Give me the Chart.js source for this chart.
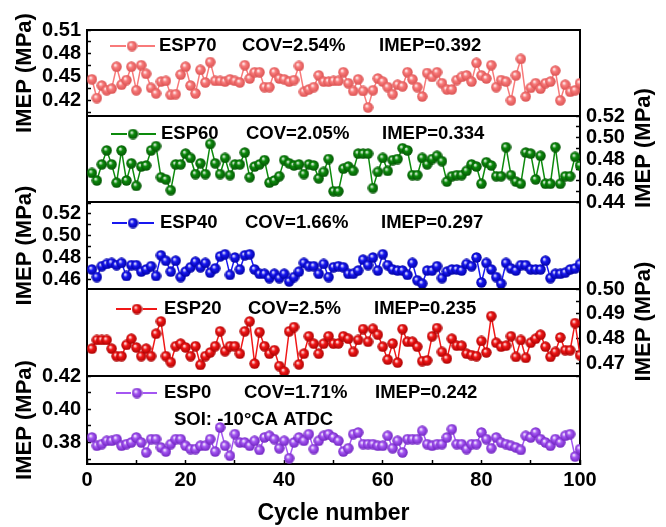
<!DOCTYPE html>
<html>
<head>
<meta charset="utf-8">
<script src="https://cdn.jsdelivr.net/npm/chart.js@4.4.1/dist/chart.umd.min.js"></script>
<style>
  html, body { margin: 0; padding: 0; background: #fff; }
  #wrap { position: relative; width: 666px; height: 527px; overflow: hidden; }
  #wrap canvas { position: absolute; left: 0; top: 0; }
</style>
</head>
<body>
<div id="wrap">
  <canvas id="p1" width="666" height="527"></canvas>
  <canvas id="p2" width="666" height="527"></canvas>
  <canvas id="p3" width="666" height="527"></canvas>
  <canvas id="p4" width="666" height="527"></canvas>
  <canvas id="p5" width="666" height="527"></canvas>
</div>
<script>
  // IMEP per cycle (MPa), cycles 1..100
  const esp70 = [
    0.447, 0.423, 0.439, 0.433, 0.435, 0.463, 0.440, 0.446, 0.463, 0.433,
    0.465, 0.454, 0.436, 0.429, 0.444, 0.445, 0.427, 0.428, 0.453, 0.463,
    0.439, 0.429, 0.459, 0.443, 0.469, 0.445, 0.445, 0.444, 0.447, 0.445,
    0.443, 0.465, 0.448, 0.456, 0.456, 0.437, 0.437, 0.456, 0.448, 0.447,
    0.444, 0.446, 0.464, 0.431, 0.434, 0.437, 0.452, 0.444, 0.444, 0.445,
    0.445, 0.456, 0.442, 0.432, 0.447, 0.432, 0.411, 0.433, 0.448, 0.444,
    0.437, 0.428, 0.440, 0.438, 0.456, 0.447, 0.437, 0.425, 0.455, 0.450,
    0.456, 0.442, 0.434, 0.434, 0.446, 0.450, 0.452, 0.444, 0.468, 0.452,
    0.448, 0.465, 0.437, 0.446, 0.444, 0.420, 0.452, 0.473, 0.425, 0.436,
    0.442, 0.435, 0.442, 0.444, 0.458, 0.420, 0.440, 0.431, 0.433, 0.442
  ];
  const esp60 = [
    0.467, 0.460, 0.475, 0.488, 0.475, 0.458, 0.488, 0.460, 0.476, 0.455,
    0.473, 0.474, 0.488, 0.492, 0.463, 0.461, 0.451, 0.475, 0.475, 0.485,
    0.481, 0.466, 0.476, 0.466, 0.494, 0.476, 0.466, 0.481, 0.465, 0.475,
    0.475, 0.486, 0.463, 0.473, 0.475, 0.479, 0.458, 0.460, 0.464, 0.479,
    0.476, 0.474, 0.475, 0.466, 0.475, 0.474, 0.462, 0.468, 0.480, 0.450,
    0.450, 0.471, 0.473, 0.469, 0.485, 0.485, 0.485, 0.453, 0.468, 0.481,
    0.469, 0.479, 0.480, 0.490, 0.488, 0.465, 0.465, 0.481, 0.475, 0.480,
    0.483, 0.478, 0.459, 0.464, 0.465, 0.465, 0.469, 0.475, 0.473, 0.457,
    0.477, 0.474, 0.464, 0.464, 0.491, 0.465, 0.459, 0.457, 0.486, 0.485,
    0.461, 0.483, 0.457, 0.457, 0.491, 0.457, 0.464, 0.464, 0.482, 0.474
  ];
  const esp40 = [
    0.469, 0.462, 0.472, 0.474, 0.475, 0.473, 0.475, 0.463, 0.473, 0.473,
    0.467, 0.469, 0.472, 0.463, 0.482, 0.477, 0.467, 0.477, 0.462, 0.467,
    0.471, 0.476, 0.471, 0.475, 0.466, 0.470, 0.481, 0.483, 0.464, 0.480,
    0.469, 0.482, 0.483, 0.469, 0.465, 0.465, 0.461, 0.465, 0.461, 0.465,
    0.458, 0.462, 0.467, 0.475, 0.472, 0.472, 0.465, 0.474, 0.462, 0.471,
    0.472, 0.471, 0.465, 0.465, 0.468, 0.478, 0.473, 0.480, 0.468, 0.483,
    0.473, 0.469, 0.468, 0.468, 0.464, 0.475, 0.459, 0.456, 0.468, 0.468,
    0.472, 0.461, 0.467, 0.469, 0.469, 0.468, 0.474, 0.472, 0.480, 0.457,
    0.475, 0.469, 0.462, 0.456, 0.475, 0.470, 0.468, 0.473, 0.473, 0.469,
    0.469, 0.469, 0.477, 0.461, 0.465, 0.465, 0.466, 0.469, 0.470, 0.474
  ];
  const esp20 = [
    0.4760, 0.4795, 0.4795, 0.4795, 0.4760, 0.4730, 0.4730, 0.4775, 0.4800, 0.4765,
    0.4730, 0.4760, 0.4730, 0.4820, 0.4870, 0.4730, 0.4706, 0.4770, 0.4780, 0.4765,
    0.4730, 0.4770, 0.4695, 0.4730, 0.4745, 0.4770, 0.4830, 0.4750, 0.4770, 0.4770,
    0.4740, 0.4830, 0.4870, 0.4700, 0.4827, 0.4770, 0.4740, 0.4754, 0.4690, 0.4668,
    0.4830, 0.4847, 0.4697, 0.4740, 0.4810, 0.4780, 0.4740, 0.4780, 0.4810, 0.4780,
    0.4781, 0.4810, 0.4800, 0.4747, 0.4795, 0.4839, 0.4788, 0.4840, 0.4816, 0.4768,
    0.4716, 0.4781, 0.4704, 0.4839, 0.4788, 0.4788, 0.4768, 0.4710, 0.4713, 0.4810,
    0.4843, 0.4747, 0.4720, 0.4800, 0.4772, 0.4772, 0.4740, 0.4734, 0.4730, 0.4791,
    0.4745, 0.4891, 0.4784, 0.4768, 0.4772, 0.4810, 0.4727, 0.4795, 0.4723, 0.4784,
    0.4800, 0.4816, 0.4768, 0.4727, 0.4747, 0.4805, 0.4754, 0.4754, 0.4863, 0.4734
  ];
  const esp0 = [
    0.3830, 0.3780, 0.3790, 0.3810, 0.3810, 0.3820, 0.3780, 0.3790, 0.3800, 0.3830,
    0.3800, 0.3740, 0.3820, 0.3820, 0.3770, 0.3745, 0.3790, 0.3820, 0.3820, 0.3780,
    0.3760, 0.3760, 0.3780, 0.3780, 0.3820, 0.3745, 0.3890, 0.3780, 0.3720, 0.3850,
    0.3800, 0.3800, 0.3780, 0.3810, 0.3755, 0.3830, 0.3840, 0.3820, 0.3765, 0.3810,
    0.3705, 0.3800, 0.3830, 0.3810, 0.3850, 0.3760, 0.3810, 0.3840, 0.3850, 0.3830,
    0.3810, 0.3745, 0.3765, 0.3850, 0.3860, 0.3790, 0.3790, 0.3790, 0.3780, 0.3780,
    0.3840, 0.3765, 0.3810, 0.3740, 0.3820, 0.3820, 0.3820, 0.3870, 0.3790, 0.3780,
    0.3790, 0.3790, 0.3830, 0.3880, 0.3790, 0.3790, 0.3760, 0.3790, 0.3790, 0.3860,
    0.3820, 0.3765, 0.3830, 0.3800, 0.3790, 0.3780, 0.3770, 0.3755, 0.3840, 0.3830,
    0.3860, 0.3820, 0.3800, 0.3780, 0.3820, 0.3800, 0.3840, 0.3850, 0.3715, 0.3760
  ];

  // tick labels
  const xTicks = [0, 20, 40, 60, 80, 100];
  const esp70Ticks = [0.42, 0.45, 0.48, 0.51];
  const esp60Ticks = [0.44, 0.46, 0.48, 0.50, 0.52];
  const esp40Ticks = [0.46, 0.48, 0.50, 0.52];
  const esp20Ticks = [0.47, 0.48, 0.49, 0.50];
  const esp0Ticks = [0.38, 0.40, 0.42];

  Chart.defaults.font.family = "'Liberation Sans', Arial, sans-serif";
  Chart.defaults.color = "#000";

  const W = 666, H = 527;
  const PLOT_LEFT = 87, PLOT_RIGHT = 580;
  const FONT = "'Liberation Sans', Arial, sans-serif";

  const panels = [
    { id: "p1", name: "ESP70", cov: "COV=2.54%", imep: "IMEP=0.392", data: esp70, ticks: esp70Ticks,
      min: 0.40, max: 0.51, color: "#F87A7A", dark: "#D95050", side: "left", top: 30, bottom: 116,
      ly: 46, lx0: 110, lx1: 155, mx: 132, nx: 159, cx: 242, ix: 379 },
    { id: "p2", name: "ESP60", cov: "COV=2.05%", imep: "IMEP=0.334", data: esp60, ticks: esp60Ticks,
      min: 0.44, max: 0.52, color: "#0C8A0C", dark: "#045204", side: "right", top: 116, bottom: 202,
      ly: 134, lx0: 111, lx1: 156, mx: 133, nx: 161, cx: 246, ix: 382 },
    { id: "p3", name: "ESP40", cov: "COV=1.66%", imep: "IMEP=0.297", data: esp40, ticks: esp40Ticks,
      min: 0.451, max: 0.531, color: "#1818F0", dark: "#0000A0", side: "left", top: 202, bottom: 289,
      ly: 223, lx0: 112, lx1: 154, mx: 133, nx: 160, cx: 245, ix: 381 },
    { id: "p4", name: "ESP20", cov: "COV=2.5%", imep: "IMEP=0.235", data: esp20, ticks: esp20Ticks,
      min: 0.465, max: 0.50, color: "#F01818", dark: "#A80000", side: "right", top: 289, bottom: 376,
      ly: 309, lx0: 116, lx1: 157, mx: 137, nx: 164, cx: 248, ix: 374 },
    { id: "p5", name: "ESP0", cov: "COV=1.71%", imep: "IMEP=0.242", data: esp0, ticks: esp0Ticks,
      min: 0.367, max: 0.42, color: "#A456F2", dark: "#6E22BE", side: "left", top: 376, bottom: 464,
      ly: 393, lx0: 116, lx1: 157, mx: 137, nx: 164, cx: 244, ix: 375,
      note: "SOI: -10\u00B0CA ATDC", noteX: 174, noteY: 420 }
  ];

  // shaded ball marker, like the Origin sphere symbol
  function sphere(color, dark) {
    const c = document.createElement("canvas");
    c.width = 11;
    c.height = 11;
    const g = c.getContext("2d");
    const grad = g.createRadialGradient(4, 3.8, 0.2, 5.5, 5.5, 5.5);
    grad.addColorStop(0, "#ffffff");
    grad.addColorStop(0.38, color);
    grad.addColorStop(1, dark);
    g.fillStyle = grad;
    g.beginPath();
    g.arc(5.5, 5.5, 5.2, 0, Math.PI * 2);
    g.fill();
    return c;
  }

  // major ticks plus a minor tick halfway between each pair
  function withMinor(majors, min, max) {
    const half = (majors[1] - majors[0]) / 2;
    const out = [];
    for (let i = -20; i <= 40; i++) {
      const v = Math.round((majors[0] + i * half) * 10000) / 10000;
      if (v >= min - 1e-9 && v <= max + 1e-9) out.push(v);
    }
    return out;
  }
  function isMajor(v, majors) {
    return majors.some(m => Math.abs(m - v) < 1e-6);
  }

  function textPlugin(p) {
    return {
      id: "panelText",
      afterDraw(chart) {
        const ctx = chart.ctx;
        const area = chart.chartArea;
        const img = chart.data.datasets[0].pointStyle;
        ctx.save();
        // legend sample  —●—
        ctx.strokeStyle = p.color;
        ctx.lineWidth = 2;
        ctx.beginPath();
        ctx.moveTo(p.lx0, p.ly);
        ctx.lineTo(p.mx - 6, p.ly);
        ctx.moveTo(p.mx + 6, p.ly);
        ctx.lineTo(p.lx1, p.ly);
        ctx.stroke();
        ctx.drawImage(img, p.mx - 5.5, p.ly - 5.5);
        ctx.fillStyle = "#000";
        ctx.font = "bold 18.5px " + FONT;
        ctx.textBaseline = "middle";
        ctx.textAlign = "left";
        ctx.fillText(p.name, p.nx, p.ly);
        ctx.fillText(p.cov, p.cx, p.ly);
        ctx.fillText(p.imep, p.ix, p.ly);
        if (p.note) ctx.fillText(p.note, p.noteX, p.noteY);
        // right-hand axis title, reading bottom to top
        if (p.side === "right") {
          ctx.font = "bold 22px " + FONT;
          ctx.textAlign = "center";
          ctx.translate(644, (area.top + area.bottom) / 2 - 11);
          ctx.rotate(-Math.PI / 2);
          ctx.fillText("IMEP (MPa)", 0, 0);
        }
        ctx.restore();
      }
    };
  }

  const border = { display: true, color: "#000", width: 2 };

  panels.forEach((p, k) => {
    const last = k === panels.length - 1;
    const dataSide = p.side;
    const otherSide = p.side === "left" ? "right" : "left";
    const sideWidth = s => (s === "left" ? PLOT_LEFT : W - PLOT_RIGHT);

    new Chart(document.getElementById(p.id), {
      type: "line",
      data: {
        datasets: [
          {
            label: p.name,
            data: p.data.map((v, i) => ({ x: i + 1, y: v })),
            borderColor: p.color,
            borderWidth: 1.5,
            pointStyle: sphere(p.color, p.dark),
            pointRadius: 5,
            fill: false,
            tension: 0,
          },
        ],
      },
      options: {
        responsive: false,
        animation: false,
        events: [],
        layout: {
          padding: { top: p.top, bottom: last ? 0 : H - p.bottom, left: 0, right: 0 },
        },
        scales: {
          x: {
            type: "linear",
            position: "bottom",
            min: 0,
            max: 100,
            afterFit: s => { s.height = last ? H - p.bottom : 0; },
            afterBuildTicks: s => { s.ticks = withMinor(xTicks, 0, 100).map(v => ({ value: v })); },
            ticks: {
              display: last,
              autoSkip: false,
              maxRotation: 0,
              padding: 8,
              color: "#000",
              font: { size: 20, weight: "bold" },
              callback: v => (isMajor(v, xTicks) ? String(v) : ""),
            },
            grid: { display: last, drawOnChartArea: false, tickLength: -4, tickWidth: 1.5, tickColor: "#000" },
            border: border,
            title: {
              display: last,
              text: "Cycle number",
              color: "#000",
              font: { size: 23, weight: "bold" },
              padding: { top: 0, bottom: 0 },
            },
          },
          xt: {
            type: "linear",
            axis: "x",
            position: "top",
            min: 0,
            max: 100,
            afterFit: s => { s.height = 0; },
            ticks: { display: false },
            grid: { display: false },
            border: border,
          },
          y: {
            type: "linear",
            position: dataSide,
            min: p.min,
            max: p.max,
            afterFit: s => { s.width = sideWidth(dataSide); },
            afterBuildTicks: s => { s.ticks = withMinor(p.ticks, p.min, p.max).map(v => ({ value: v })); },
            ticks: {
              autoSkip: false,
              padding: 10,
              color: "#000",
              font: { size: 20, weight: "bold" },
              callback: v => (isMajor(v, p.ticks) ? v.toFixed(2) : ""),
            },
            grid: { display: true, drawOnChartArea: false, tickLength: -4, tickWidth: 1.5, tickColor: "#000" },
            border: border,
            title: {
              display: dataSide === "left",
              text: "IMEP (MPa)",
              color: "#000",
              font: { size: 22, weight: "bold" },
              padding: { top: 12, bottom: 0 },
            },
          },
          y2: {
            type: "linear",
            axis: "y",
            position: otherSide,
            min: p.min,
            max: p.max,
            afterFit: s => { s.width = sideWidth(otherSide); },
            ticks: { display: false },
            grid: { display: false },
            border: border,
          },
        },
        plugins: {
          legend: { display: false },
          tooltip: { enabled: false },
        },
      },
      plugins: [textPlugin(p)],
    });
  });
</script>
</body>
</html>
